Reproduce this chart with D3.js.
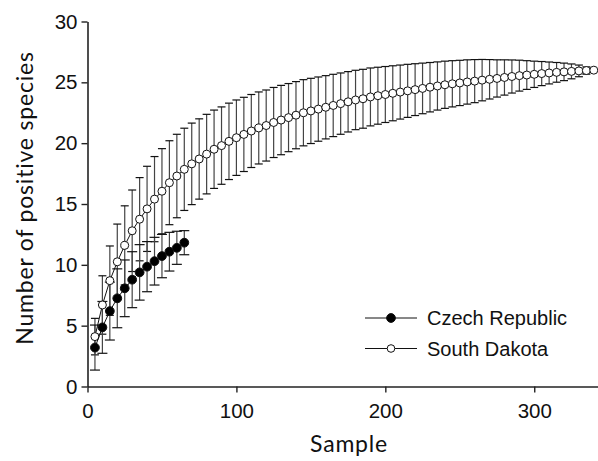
<!DOCTYPE html>
<html>
<head>
<meta charset="utf-8">
<script src="https://cdn.jsdelivr.net/npm/d3@7"></script>
<style>
  body { margin: 0; background: #fff; }
  svg { display: block; }
</style>
</head>
<body>
<script>
'use strict';

// Czech Republic
var czSample = [5, 10, 15, 20, 25, 30, 35, 40, 45, 50, 55, 60, 65];
var czMean = [3.2, 4.86, 6.2, 7.25, 8.07, 8.78, 9.38, 9.85, 10.3, 10.72, 11.08, 11.4, 11.82];
var czSD = [1.85, 2.13, 2.38, 2.42, 2.33, 2.3, 2.28, 2.06, 1.96, 1.78, 1.59, 1.36, 0.99];

// South Dakota
var sdSample = [5, 10, 15, 20, 25, 30, 35, 40, 45, 50, 55, 60, 65, 70, 75, 80, 85, 90, 95, 100,
	105, 110, 115, 120, 125, 130, 135, 140, 145, 150, 155, 160, 165, 170, 175, 180, 185, 190, 195, 200,
	205, 210, 215, 220, 225, 230, 235, 240, 245, 250, 255, 260, 265, 270, 275, 280, 285, 290, 295, 300,
	305, 310, 315, 320, 325, 330, 335, 340];
var sdMean = [4.1, 6.7, 8.7, 10.25, 11.6, 12.8, 13.75, 14.6, 15.4, 16.05, 16.75, 17.3, 17.85, 18.3, 18.7, 19.1, 19.5, 19.8, 20.15, 20.45,
	20.72, 21.0, 21.25, 21.45, 21.7, 21.9, 22.1, 22.3, 22.5, 22.65, 22.8, 22.95, 23.1, 23.25, 23.4, 23.55, 23.65, 23.8, 23.9, 24.0,
	24.1, 24.2, 24.3, 24.4, 24.5, 24.6, 24.7, 24.8, 24.88, 24.95, 25.03, 25.1, 25.18, 25.25, 25.32, 25.4, 25.48, 25.55, 25.6, 25.66,
	25.72, 25.77, 25.82, 25.86, 25.9, 25.94, 25.97, 26.0];
var sdSD = [1.5, 2.4, 2.85, 3.1, 3.25, 3.35, 3.42, 3.5, 3.5, 3.5, 3.45, 3.43, 3.38, 3.35, 3.3, 3.27, 3.22, 3.18, 3.14, 3.1,
	3.05, 3.0, 2.96, 2.92, 2.88, 2.85, 2.8, 2.76, 2.72, 2.68, 2.64, 2.6, 2.56, 2.52, 2.48, 2.44, 2.42, 2.38, 2.34, 2.3,
	2.26, 2.22, 2.18, 2.13, 2.08, 2.03, 1.98, 1.94, 1.9, 1.86, 1.82, 1.77, 1.7, 1.62, 1.53, 1.45, 1.36, 1.27, 1.18, 1.08,
	0.99, 0.9, 0.81, 0.72, 0.61, 0.48, 0.3, 0];

var xTicks = [0, 100, 200, 300];
var yTicks = [0, 5, 10, 15, 20, 25, 30];

var W = 598, H = 461;
var svg = d3.select('body').append('svg').attr('width', W).attr('height', H);

var x = d3.scaleLinear().domain([0, 350]).range([87.5, 608.7]);
var y = d3.scaleLinear().domain([0, 30]).range([386.5, 21.5]);

var tickFont = '"Liberation Sans", Arial, sans-serif';
var titleFont = 'Lato, "Open Sans", sans-serif';

// axes
var xAxis = svg.append('g').attr('transform', 'translate(0,' + y(0) + ')')
	.call(d3.axisBottom(x).tickValues(xTicks).tickSize(6).tickSizeOuter(0).tickPadding(11));
var yAxis = svg.append('g').attr('transform', 'translate(' + x(0) + ',0)')
	.call(d3.axisLeft(y).tickValues(yTicks).tickSize(6).tickSizeOuter(0).tickPadding(4));

[xAxis, yAxis].forEach(function(g) {
	g.select('.domain').attr('stroke', '#222').attr('stroke-width', 1.6);
	g.selectAll('.tick line').attr('stroke', '#222').attr('stroke-width', 1.4);
	g.selectAll('.tick text').attr('font-family', tickFont).attr('font-size', 20.5).attr('fill', '#111');
});

function toRows(xs, ms, ss) {
	return xs.map(function(v, i) { return {x: v, m: ms[i], s: ss[i]}; });
}
var czRows = toRows(czSample, czMean, czSD);
var sdRows = toRows(sdSample, sdMean, sdSD);

function errorBars(rows, cap) {
	var g = svg.append('g');
	g.selectAll('line.v').data(rows).enter().append('line')
		.attr('x1', d => x(d.x)).attr('x2', d => x(d.x))
		.attr('y1', d => y(d.m - d.s)).attr('y2', d => y(d.m + d.s))
		.attr('stroke', '#444').attr('stroke-width', 1.2);
	[-1, 1].forEach(function(sign) {
		g.selectAll('line.c' + sign).data(rows.filter(d => d.s > 0)).enter().append('line')
			.attr('x1', d => x(d.x) - cap / 2).attr('x2', d => x(d.x) + cap / 2)
			.attr('y1', d => y(d.m + sign * d.s)).attr('y2', d => y(d.m + sign * d.s))
			.attr('stroke', '#111').attr('stroke-width', 1.2);
	});
}

function series(rows, fill, r) {
	var line = d3.line().x(d => x(d.x)).y(d => y(d.m));
	svg.append('path').datum(rows).attr('d', line)
		.attr('fill', 'none').attr('stroke', '#111').attr('stroke-width', 1);
	svg.append('g').selectAll('circle').data(rows).enter().append('circle')
		.attr('cx', d => x(d.x)).attr('cy', d => y(d.m)).attr('r', r)
		.attr('fill', fill).attr('stroke', '#111').attr('stroke-width', 1);
}

errorBars(sdRows, 8);
errorBars(czRows, 10);
series(sdRows, '#fff', 4);
series(czRows, '#000', 4.4);

// legend
var legend = [
	{name: 'Czech Republic', fill: '#000', r: 4.4},
	{name: 'South Dakota', fill: '#fff', r: 3.8}
];
var lg = svg.append('g').selectAll('g').data(legend).enter().append('g')
	.attr('transform', (d, i) => 'translate(365,' + (318 + i * 30.5) + ')');
lg.append('line').attr('x1', 0).attr('x2', 52).attr('stroke', '#111').attr('stroke-width', 1);
lg.append('circle').attr('cx', 26).attr('r', d => d.r).attr('fill', d => d.fill).attr('stroke', '#111');
lg.append('text').attr('x', 62).attr('dy', '0.35em')
	.attr('font-family', tickFont).attr('font-size', 20).attr('fill', '#111')
	.text(d => d.name);

// axis titles
svg.append('text').attr('x', 349).attr('y', 452).attr('text-anchor', 'middle')
	.attr('font-family', titleFont).attr('font-size', 23).attr('fill', '#111')
	.attr('letter-spacing', 0.8)
	.text('Sample');
svg.append('text').attr('transform', 'translate(33,198) rotate(-90)').attr('text-anchor', 'middle')
	.attr('font-family', titleFont).attr('font-size', 23).attr('fill', '#111')
	.attr('letter-spacing', 0.8)
	.text('Number of positive species');
</script>
</body>
</html>
